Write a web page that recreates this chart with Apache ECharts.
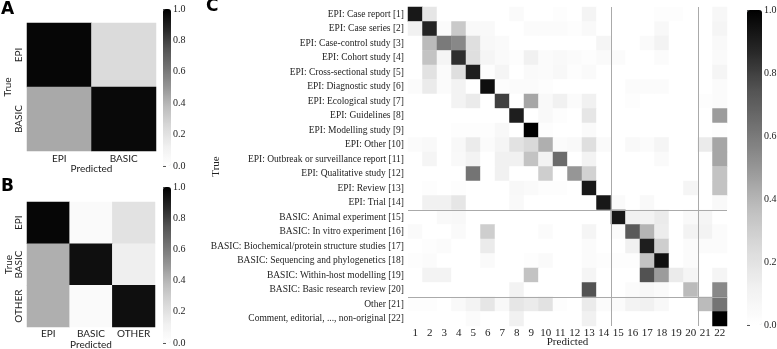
<!DOCTYPE html>
<html><head><meta charset="utf-8">
<script src="https://cdn.jsdelivr.net/npm/echarts@6/dist/echarts.min.js"></script>
<style>html,body{margin:0;padding:0;background:#fff}#c{width:777px;height:349px}</style>
</head><body><div id="c"></div>
<script>
// ---- data ----
const aCats = ['EPI', 'BASIC'];
const aMatrix = [
  [0.98, 0.24],
  [0.44, 0.97]
];
const bCats = ['EPI', 'BASIC', 'OTHER'];
const bMatrix = [
  [0.98, 0.04, 0.20],
  [0.42, 0.95, 0.13],
  [0.42, 0.04, 0.95]
];
const cXLabels = ['1','2','3','4','5','6','7','8','9','10','11','12','13','14','15','16','17','18','19','20','21','22'];
const cYLabels = [
  'EPI: Case report [1]', 'EPI: Case series [2]', 'EPI: Case-control study [3]', 'EPI: Cohort study [4]',
  'EPI: Cross-sectional study [5]', 'EPI: Diagnostic study [6]', 'EPI: Ecological study [7]', 'EPI: Guidelines [8]',
  'EPI: Modelling study [9]', 'EPI: Other [10]', 'EPI: Outbreak or surveillance report [11]', 'EPI: Qualitative study [12]',
  'EPI: Review [13]', 'EPI: Trial [14]', 'BASIC: Animal experiment [15]', 'BASIC: In vitro experiment [16]',
  'BASIC: Biochemical/protein structure studies [17]', 'BASIC: Sequencing and phylogenetics [18]',
  'BASIC: Within-host modelling [19]', 'BASIC: Basic research review [20]', 'Other [21]',
  'Comment, editorial, ..., non-original [22]'
];
const cMatrix = [
  [0.92,0.18,0,0,0,0,0,0.04,0,0,0.02,0,0.09,0,0,0,0,0.02,0.02,0,0,0.07],
  [0.12,0.88,0.03,0.32,0.05,0.05,0,0,0.03,0.03,0.03,0.02,0.05,0,0,0,0,0.06,0,0,0,0.08],
  [0,0.38,0.6,0.55,0.22,0.06,0.04,0,0,0,0,0,0,0.08,0,0,0.04,0.1,0,0,0,0.05],
  [0,0.35,0.08,0.85,0.22,0.08,0.04,0.02,0.12,0.03,0.05,0.03,0.02,0.04,0.03,0,0,0.03,0,0,0,0.04],
  [0,0.2,0.03,0.22,0.9,0.02,0.08,0,0.04,0.03,0.06,0.02,0.04,0,0,0,0,0,0,0,0,0.08],
  [0.03,0.15,0.03,0.1,0,0.95,0.02,0.03,0.03,0.02,0,0,0,0,0,0.03,0.03,0.03,0,0,0,0.03],
  [0,0,0,0.1,0.15,0,0.8,0,0.45,0.05,0.12,0.03,0.12,0,0,0.02,0,0,0,0,0.02,0.03],
  [0,0,0,0,0,0,0,0.9,0,0.05,0.02,0,0.18,0,0,0,0,0,0,0,0,0.48],
  [0,0,0,0.02,0.02,0.02,0.06,0,1.0,0.02,0,0,0.04,0,0,0,0,0,0,0,0,0.02],
  [0.03,0.05,0,0.06,0.15,0.03,0.08,0.2,0.25,0.42,0.03,0.05,0.22,0.04,0,0.05,0.03,0.08,0,0,0.15,0.45],
  [0,0.08,0,0.05,0.1,0,0.12,0.12,0.35,0.1,0.65,0,0.1,0,0,0,0,0.04,0,0,0,0.45],
  [0,0,0,0,0.62,0,0.12,0,0,0.3,0,0.5,0.28,0,0,0,0,0,0,0,0,0.35],
  [0,0.02,0,0.02,0,0,0,0.06,0.04,0.02,0.02,0,0.92,0,0,0,0,0,0,0.08,0,0.35],
  [0,0.12,0.12,0.18,0,0,0,0.05,0,0,0,0,0,0.92,0.04,0,0.05,0,0,0,0,0.05],
  [0,0,0.05,0.06,0,0,0,0,0,0,0,0,0,0,0.92,0.12,0.1,0.15,0,0.05,0.08,0],
  [0.04,0,0,0.04,0,0.3,0,0,0,0.03,0,0,0.08,0,0.03,0.72,0.4,0.14,0,0.1,0.1,0.03],
  [0,0.02,0.03,0,0,0.15,0,0,0,0,0,0,0.03,0,0,0.12,0.9,0.3,0,0.03,0.03,0.03],
  [0.02,0.03,0,0,0,0.04,0,0,0.02,0.04,0,0,0.03,0.02,0.02,0.02,0.35,0.95,0,0.03,0,0],
  [0,0.1,0.1,0,0,0,0,0,0.35,0,0,0,0.08,0,0,0,0.75,0.48,0.15,0.08,0,0.08],
  [0,0,0,0,0,0,0,0.1,0,0,0,0,0.75,0,0,0.03,0.07,0.04,0,0.38,0,0.55],
  [0.02,0.02,0,0.05,0.1,0.18,0.06,0.18,0.15,0.2,0.02,0,0.15,0.03,0.03,0.1,0.12,0.06,0,0,0.38,0.62],
  [0,0,0,0,0.03,0,0,0.12,0,0,0,0,0.12,0,0,0,0,0,0,0,0,1.0]
];
const cGroupBoundaries = [14, 20];
const colorbarTicks = [0, 0.2, 0.4, 0.6, 0.8, 1.0];

// ---- build ----
const greys = ['#ffffff','#f0f0f0','#d9d9d9','#bdbdbd','#969696','#737373','#525252','#252525','#000000'];
function toCells(m) {
  const out = [];
  m.forEach((row, r) => row.forEach((v, c) => out.push([c, r, v])));
  return out;
}
const sans = 'Lato';
const serif = 'Liberation Serif';
const txt = '#222';

function catAxisX(grid, data, name, gap, font, size, margin) {
  return { type: 'category', gridIndex: grid, data: data, name: name, nameLocation: 'middle', nameGap: gap,
    nameMoveOverlap: false,
    nameTextStyle: { fontFamily: font, fontSize: size, color: txt },
    axisLine: { show: false }, axisTick: { show: false }, splitLine: { show: false },
    axisLabel: { fontFamily: font, fontSize: size, color: txt, margin: margin, interval: 0 } };
}
function catAxisY(grid, data, name, gap, font, size, nameSize, margin, rotate) {
  return { type: 'category', gridIndex: grid, data: data, inverse: true, name: name, nameLocation: 'middle',
    nameGap: gap, nameRotate: 90, nameMoveOverlap: false,
    nameTextStyle: { fontFamily: font, fontSize: nameSize, color: txt },
    axisLine: { show: false }, axisTick: { show: false }, splitLine: { show: false },
    axisLabel: { fontFamily: font, fontSize: size, color: txt, margin: margin, interval: 0, rotate: rotate } };
}
function hiddenX(grid) {
  return { type: 'value', gridIndex: grid, min: 0, max: 1, show: false };
}
function cbAxis(grid, size) {
  return { type: 'value', gridIndex: grid, min: 0, max: 1, interval: 0.2, position: 'right',
    axisLine: { show: false }, splitLine: { show: false },
    axisTick: { show: true, length: 3, lineStyle: { color: '#555' } },
    axisLabel: { fontFamily: serif, fontSize: size, color: txt, margin: 2,
      formatter: v => (colorbarTicks.indexOf(+v.toFixed(1)) >= 0 ? v.toFixed(1) : '') } };
}
function vmap(idx, left, top, w, h) {
  return { type: 'continuous', min: 0, max: 1, seriesIndex: idx, calculable: false, orient: 'vertical',
    left: left, top: top, itemWidth: w, itemHeight: h, padding: 0, text: null, hoverLink: false,
    inRange: { color: greys } };
}
function g(left, top, width, height) {
  return { left: left, top: top, width: width, height: height, outerBoundsMode: 'none', containLabel: false };
}

const option = {
  animation: false,
  backgroundColor: '#fff',
  grid: [
    g(27, 23, 129, 128),
    g(163, 9, 8, 157),
    g(27, 202, 128, 125),
    g(163, 187, 8, 156),
    g(408, 7, 319, 319),
    g(747, 10, 15, 315)
  ],
  xAxis: [
    catAxisX(0, aCats, 'Predicted', 13, sans, 10, 3),
    hiddenX(1),
    catAxisX(2, bCats, 'Predicted', 13, sans, 10, 2),
    hiddenX(3),
    catAxisX(4, cXLabels, 'Predicted', 11, serif, 11, 2),
    hiddenX(5),
    { type: 'value', gridIndex: 4, min: 0, max: 22, show: false }
  ],
  yAxis: [
    catAxisY(0, aCats, 'True', 14, sans, 10, 10, 3, 90),
    cbAxis(1, 10),
    catAxisY(2, bCats, 'True', 13, sans, 10, 10, 3, 90),
    cbAxis(3, 10),
    catAxisY(4, cYLabels, 'True', 186, serif, 9.5, 11, 4, 0),
    cbAxis(5, 10),
    { type: 'value', gridIndex: 4, min: 0, max: 22, inverse: true, show: false }
  ],
  visualMap: [
    vmap(0, 163, 9, 8, 157),
    vmap(1, 163, 187, 8, 156),
    vmap(2, 747, 10, 15, 315)
  ],
  series: [
    { type: 'heatmap', xAxisIndex: 0, yAxisIndex: 0, data: toCells(aMatrix), emphasis: { disabled: true } },
    { type: 'heatmap', xAxisIndex: 2, yAxisIndex: 2, data: toCells(bMatrix), emphasis: { disabled: true } },
    { type: 'heatmap', xAxisIndex: 4, yAxisIndex: 4, data: toCells(cMatrix), emphasis: { disabled: true } },
    { type: 'line', xAxisIndex: 6, yAxisIndex: 6, data: [], silent: true,
      markLine: { silent: true, symbol: ['none', 'none'], label: { show: false }, animation: false,
        lineStyle: { color: '#aaaaaa', width: 1, type: 'solid' },
        emphasis: { disabled: true },
        data: cGroupBoundaries.map(b => ({ xAxis: b })).concat(cGroupBoundaries.map(b => ({ yAxis: b }))) } }
  ],
  graphic: [
    { type: 'text', left: 1, top: 1, style: { text: 'A', font: 'bold 17px "DejaVu Sans"', fill: '#000' } },
    { type: 'text', left: 1, top: 178, style: { text: 'B', font: 'bold 17px "DejaVu Sans"', fill: '#000' } },
    { type: 'text', left: 206, top: -2, style: { text: 'C', font: 'bold 17px "DejaVu Sans"', fill: '#000' } }
  ]
};
const chart = echarts.init(document.getElementById('c'), null, { renderer: 'canvas' });
chart.setOption(option);
</script></body></html>
